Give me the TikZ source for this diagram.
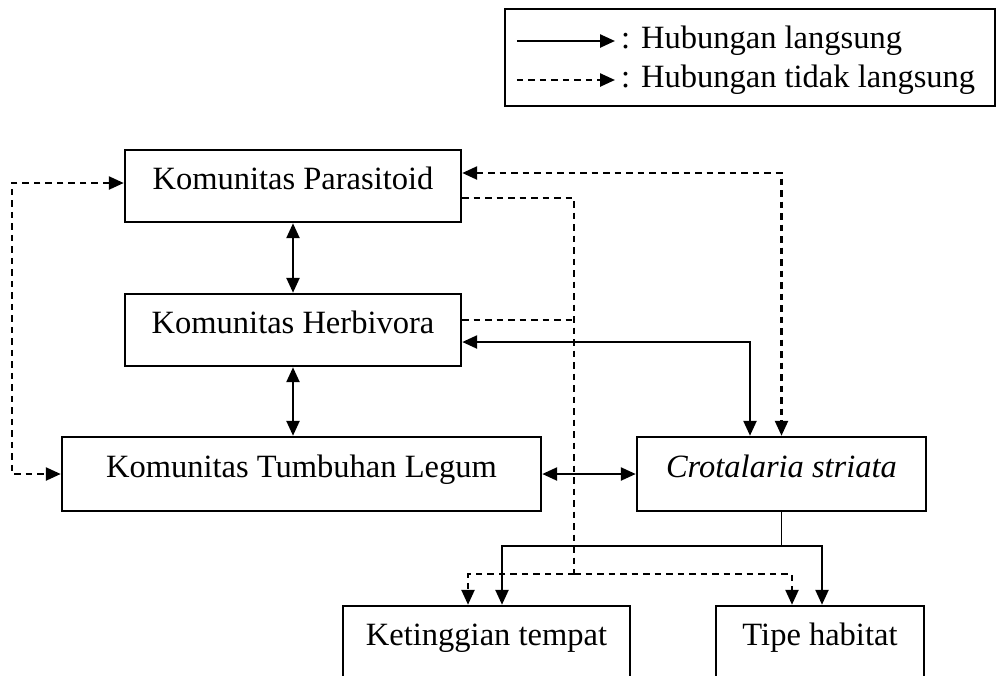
\documentclass[tikz,border=0pt]{standalone}
\usepackage{fontspec}
\setmainfont{Liberation Serif}
\usetikzlibrary{arrows.meta, positioning, calc}

\begin{document}
\begin{tikzpicture}[
  font=\fontsize{18.5}{22}\selectfont,
  >={Triangle[length=0.3cm,width=0.26cm]},
  kotak/.style={draw, line width=1.4pt, minimum height=1.44cm, inner sep=2pt,
    text height=0.7em, text depth=0.3em},
  langsung/.style={line width=1.4pt},
  putus/.style={line width=1.4pt, dash pattern=on 0.13cm off 0.1cm},
  batang/.style={line width=0.9pt},
]
  \useasboundingbox (0,0) rectangle (19.92,-13.5);
  \clip (0,0) rectangle (19.92,-13.5);

  % Legenda
  \node[draw, line width=1.4pt, minimum width=9.8cm, minimum height=1.94cm] (legenda) at (15.0,-1.15) {};
  \node[anchor=west] (ketA) at (12.3,-0.82) {: Hubungan langsung};
  \node[anchor=west] (ketB) at (12.3,-1.6) {: Hubungan tidak langsung};
  \draw[langsung, ->] ([xshift=0.26cm]legenda.west |- ketA.west) -- (ketA.west);
  \draw[putus, ->] ([xshift=0.26cm]legenda.west |- ketB.west) -- (ketB.west);

  % Kotak komunitas
  \node[kotak, minimum width=6.72cm] (parasit) at (5.86,-3.72) {Komunitas Parasitoid};
  \node[kotak, minimum width=6.72cm] (herbi) at (5.86,-6.6) {Komunitas Herbivora};
  \node[kotak, minimum width=9.58cm, minimum height=1.48cm] (legum) at (6.03,-9.48) {Komunitas Tumbuhan Legum};
  \node[kotak, minimum width=5.78cm, minimum height=1.48cm] (crot) at (15.63,-9.48) {\textit{Crotalaria striata}};

  % Kotak faktor lingkungan
  \node[kotak, minimum width=5.74cm] (tinggi) at (9.73,-12.84) {Ketinggian tempat};
  \node[kotak, minimum width=4.16cm] (habitat) at (16.4,-12.84) {Tipe habitat};

  % Hubungan langsung
  \draw[langsung, <->] (parasit) -- (herbi);
  \draw[langsung, <->] (herbi.south) -- (herbi.south |- legum.north);
  \draw[langsung, <->] (legum) -- (crot);
  \draw[langsung, <->] ([yshift=-0.24cm]herbi.east) -| ([xshift=-0.63cm]crot.north);
  \draw[batang] (crot.south) -- ++(0,-0.68) coordinate (simpul);
  \draw[langsung, ->] (simpul) -| ([xshift=0.31cm]tinggi.north);
  \draw[langsung, ->] (simpul) -| ([xshift=0.04cm]habitat.north);

  % Hubungan tidak langsung
  \draw[putus, <->] ([yshift=0.06cm]parasit.west) -- ++(-2.24,0) |- (legum.west);
  \draw[putus, <->] ([yshift=0.26cm]parasit.east) -| (crot.north);
  \draw[putus] ([yshift=-0.24cm]parasit.east) -- ++(2.24,0) coordinate (sudut)
    -- ++(0,-7.52) coordinate (temu);
  \draw[putus] ([yshift=0.2cm]herbi.east) -- ([yshift=0.2cm]herbi.east -| sudut);
  \draw[putus, ->] (temu) -| ([xshift=-0.37cm]tinggi.north);
  \draw[putus, ->] (temu) -| ([xshift=-0.56cm]habitat.north);
\end{tikzpicture}
\end{document}
